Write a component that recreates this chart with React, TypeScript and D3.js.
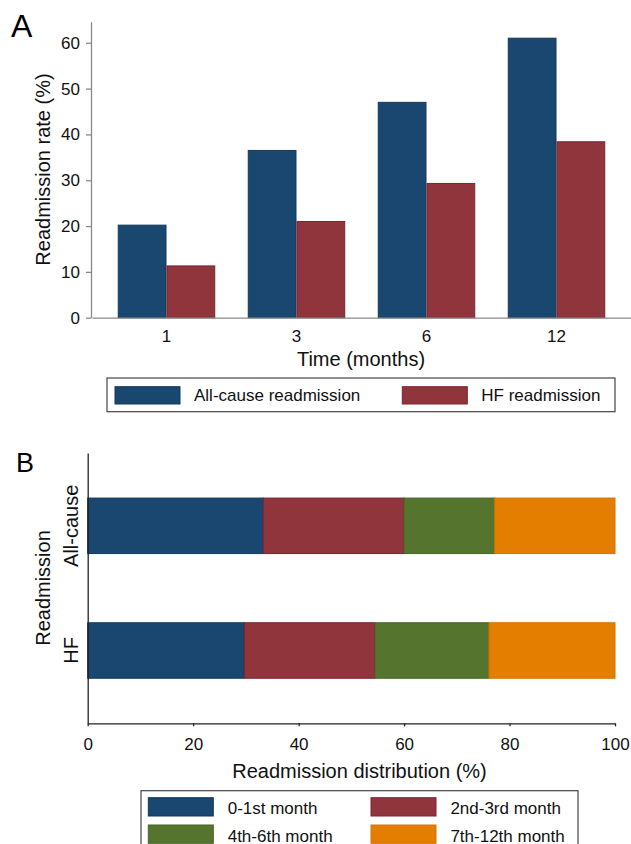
import React, { useEffect, useRef } from 'react';
import * as d3 from 'd3';

// panel A data
const months = ['1', '3', '6', '12'];
const allCauseRate = [20.2, 36.5, 47.0, 61.0];
const hfRate = [11.3, 21.0, 29.3, 38.4];
const rateTicks = [0, 10, 20, 30, 40, 50, 60];
const seriesNames = ['All-cause readmission', 'HF readmission'];

// panel B data
const groups = ['All-cause', 'HF'];
const periods = ['0-1st month', '2nd-3rd month', '4th-6th month', '7th-12th month'];
const allCauseShare = [33.3, 26.7, 17.2, 22.8];
const hfShare = [29.7, 24.8, 21.6, 23.9];
const shareTicks = [0, 20, 40, 60, 80, 100];

const colors = ['#1a476f', '#90353b', '#55752f', '#e37e00'];
const edges = ['#123a5e', '#7a2530', '#466427', '#d67400'];

const FONT = 'Arial, "Liberation Sans", sans-serif';

const App = () => {
  const chartRef = useRef<SVGSVGElement>(null);

  useEffect(() => {
    const svg = d3.select(chartRef.current);
    svg.selectAll('*').remove();
    svg.attr('font-family', FONT);

    // ---------- Panel A ----------
    const x = d3.scaleBand().domain(months).range([92, 631]).paddingInner(0.25).paddingOuter(0.198);
    const xs = d3.scaleBand().domain(seriesNames).range([0, x.bandwidth()]);
    const y = d3.scaleLinear().domain([0, 64.6]).range([317.7, 21.7]);

    const rows = months.map((m, i) => ({ month: m, values: [allCauseRate[i], hfRate[i]] }));

    const grp = svg
      .append('g')
      .selectAll('g')
      .data(rows)
      .enter()
      .append('g')
      .attr('transform', (d) => `translate(${x(d.month)},0)`);

    grp
      .selectAll('rect')
      .data((d) => d.values.map((v, k) => ({ v, k })))
      .enter()
      .append('rect')
      .attr('x', (d) => xs(seriesNames[d.k]) + 0.5)
      .attr('width', xs.bandwidth() - 1)
      .attr('y', (d) => y(d.v))
      .attr('height', (d) => y(0) - y(d.v))
      .attr('fill', (d) => colors[d.k])
      .attr('stroke', (d) => edges[d.k])
      .attr('stroke-width', 1);

    const yAxis = svg
      .append('g')
      .attr('transform', 'translate(91,0)')
      .call(d3.axisLeft(y).tickValues(rateTicks).tickSize(5).tickSizeOuter(0).tickPadding(6));
    yAxis.select('.domain').attr('stroke', '#8a8a8a').attr('stroke-width', 1.3);
    yAxis.selectAll('.tick line').attr('stroke', '#8a8a8a').attr('stroke-width', 1.3);
    yAxis.selectAll('.tick text').attr('font-size', 17).attr('fill', '#111').attr('font-family', FONT);

    const xAxis = svg
      .append('g')
      .attr('transform', `translate(0,${y(0)})`)
      .call(d3.axisBottom(x).tickSize(0).tickSizeOuter(0).tickPadding(12));
    xAxis.select('.domain').attr('stroke', '#8a8a8a').attr('stroke-width', 1.3);
    xAxis.selectAll('.tick text').attr('font-size', 17).attr('fill', '#111').attr('font-family', FONT);

    svg.append('text').attr('x', 11).attr('y', 37).attr('font-size', 32).text('A');

    svg
      .append('text')
      .attr('transform', 'translate(50,169.5) rotate(-90)')
      .attr('text-anchor', 'middle')
      .attr('font-size', 20)
      .attr('fill', '#111')
      .text('Readmission rate (%)');

    svg
      .append('text')
      .attr('x', 361)
      .attr('y', 366)
      .attr('text-anchor', 'middle')
      .attr('font-size', 20)
      .attr('fill', '#111')
      .text('Time (months)');

    // legend A
    svg
      .append('rect')
      .attr('x', 107)
      .attr('y', 378)
      .attr('width', 508)
      .attr('height', 33.7)
      .attr('fill', 'white')
      .attr('stroke', '#444')
      .attr('stroke-width', 1.2);
    seriesNames.forEach((name, i) => {
      const lx = 115 + i * 287.3;
      svg
        .append('rect')
        .attr('x', lx)
        .attr('y', 386.7)
        .attr('width', 65)
        .attr('height', 17.3)
        .attr('fill', colors[i])
        .attr('stroke', edges[i]);
      svg
        .append('text')
        .attr('x', lx + 79)
        .attr('y', 401)
        .attr('font-size', 17)
        .attr('fill', '#111')
        .text(name);
    });

    // ---------- Panel B ----------
    const xB = d3.scaleLinear().domain([0, 100]).range([87.7, 615]);
    const yB = d3.scalePoint().domain(groups).range([453, 723.3]).padding(0.584);
    const barH = 55.5;

    const shares = [allCauseShare, hfShare];
    const table = groups.map((g, gi) => {
      const row: any = { group: g };
      periods.forEach((p, pi) => (row[p] = shares[gi][pi]));
      return row;
    });
    const stacked = d3.stack().keys(periods)(table);

    svg
      .append('g')
      .selectAll('g')
      .data(stacked)
      .enter()
      .append('g')
      .attr('fill', (d, i) => colors[i])
      .attr('stroke', (d, i) => edges[i])
      .selectAll('rect')
      .data((d) => d)
      .enter()
      .append('rect')
      .attr('x', (d) => xB(d[0]))
      .attr('width', (d) => xB(d[1]) - xB(d[0]))
      .attr('y', (d) => yB(d.data.group) - barH / 2)
      .attr('height', barH);

    const yAxisB = svg
      .append('g')
      .attr('transform', 'translate(87.7,0)')
      .call(d3.axisLeft(yB).tickSize(0).tickSizeOuter(0).tickFormat(() => ''));
    yAxisB.select('.domain').attr('stroke', '#222').attr('stroke-width', 1.3);

    const xAxisB = svg
      .append('g')
      .attr('transform', 'translate(0,723.3)')
      .call(d3.axisBottom(xB).tickValues(shareTicks).tickSize(3).tickSizeOuter(0).tickPadding(11.6));
    xAxisB.select('.domain').attr('stroke', '#222').attr('stroke-width', 1.3);
    xAxisB.selectAll('.tick line').attr('stroke', '#222').attr('stroke-width', 1.3);
    xAxisB.selectAll('.tick text').attr('font-size', 17).attr('fill', '#111').attr('font-family', FONT);

    svg
      .selectAll('.cat-label')
      .data(groups)
      .enter()
      .append('text')
      .attr('class', 'cat-label')
      .attr('transform', (d) => `translate(78,${yB(d)}) rotate(-90)`)
      .attr('text-anchor', 'middle')
      .attr('font-size', 20)
      .attr('fill', '#111')
      .text((d) => d);

    svg.append('text').attr('x', 16).attr('y', 471.7).attr('font-size', 27).text('B');

    svg
      .append('text')
      .attr('transform', 'translate(50,588) rotate(-90)')
      .attr('text-anchor', 'middle')
      .attr('font-size', 20)
      .attr('fill', '#111')
      .text('Readmission');

    svg
      .append('text')
      .attr('x', 359.5)
      .attr('y', 778)
      .attr('text-anchor', 'middle')
      .attr('font-size', 20)
      .attr('fill', '#111')
      .text('Readmission distribution (%)');

    // legend B
    svg
      .append('rect')
      .attr('x', 141)
      .attr('y', 790.7)
      .attr('width', 437)
      .attr('height', 70)
      .attr('fill', 'white')
      .attr('stroke', '#444')
      .attr('stroke-width', 1.2);
    periods.forEach((name, i) => {
      const col = i % 2;
      const row = Math.floor(i / 2);
      const lx = 148.3 + col * 222.7;
      const ly = 797.7 + row * 27.3;
      svg
        .append('rect')
        .attr('x', lx)
        .attr('y', ly)
        .attr('width', 65)
        .attr('height', 18.3)
        .attr('fill', colors[i])
        .attr('stroke', edges[i]);
      svg
        .append('text')
        .attr('x', lx + 79.4)
        .attr('y', ly + 16.5)
        .attr('font-size', 17)
        .attr('fill', '#111')
        .text(name);
    });
  }, []);

  return (
    <div style={{ position: 'absolute', left: 0, top: 0, width: 631, height: 844, overflow: 'hidden', background: 'white' }}>
      <svg ref={chartRef} width={631} height={844}></svg>
    </div>
  );
};

export default App;
